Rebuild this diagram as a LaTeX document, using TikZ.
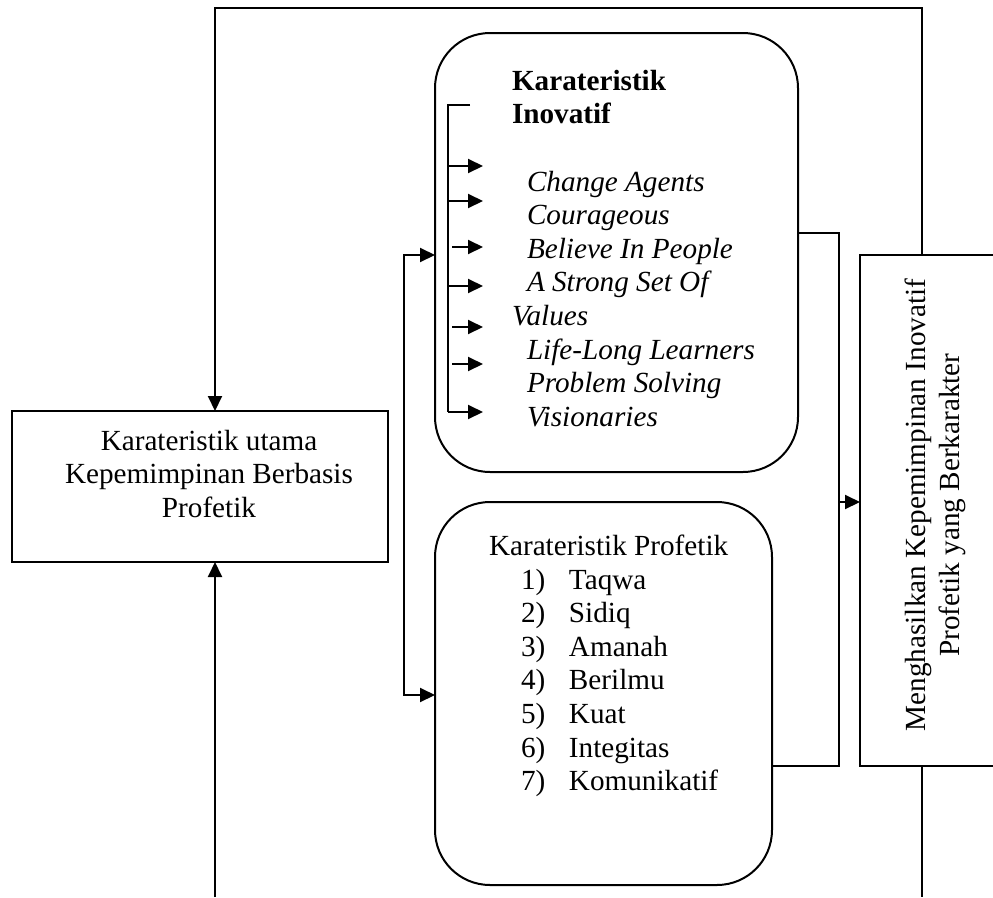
\documentclass[tikz,border=0pt]{standalone}
\usepackage{fontspec}
\setmainfont{Liberation Serif}
\usetikzlibrary{arrows.meta}

\begin{document}
\begin{tikzpicture}[x=1pt, y=-1pt, line width=2pt]
\tikzset{ >={Triangle[length=15pt,width=14pt]}, inner sep=0pt, outer sep=0pt,
  box/.style={draw},
  roundbox/.style={draw, rounded corners=55pt},
  txt/.style={font=\fontsize{29.2}{33.6}\selectfont},
}
\useasboundingbox (0,0) rectangle (993,897);
%\draw [lightgray, dashed](0,0) grid[step=50] (993,897);

\node [box, minimum width=376pt, minimum height=151pt] (utama) at (200,486.5) {};
\node [roundbox, minimum width=363pt, minimum height=439pt] (inovatif) at (616.5,252.5) {};
\node [roundbox, minimum width=337pt, minimum height=383pt] (profetik) at (603.5,693.5) {};
\node [box, minimum width=151pt, minimum height=511pt] (hasil) at (935.5,510.5) {};

\node [txt, align=center, anchor=north] (utamaT) at (209,430)
  {Karateristik utama\\Kepemimpinan Berbasis\\Profetik};
\node [txt, align=left, anchor=north west] (inovatifT) at (512,70)
  {\textbf{Karateristik}\\
   \textbf{Inovatif}\\[33.6pt]
   \hspace*{15pt}\textit{Change Agents}\\
   \hspace*{15pt}\textit{Courageous}\\
   \hspace*{15pt}\textit{Believe In People}\\
   \hspace*{15pt}\textit{A Strong Set Of}\\
   \textit{Values}\\
   \hspace*{15pt}\textit{Life-Long Learners}\\
   \hspace*{15pt}\textit{Problem Solving}\\
   \hspace*{15pt}\textit{Visionaries}};
\node [txt, align=left, anchor=north west] (profetikT) at (489,535)
  {Karateristik Profetik\\
   \hspace*{32pt}\makebox[48pt][l]{1)}Taqwa\\
   \hspace*{32pt}\makebox[48pt][l]{2)}Sidiq\\
   \hspace*{32pt}\makebox[48pt][l]{3)}Amanah\\
   \hspace*{32pt}\makebox[48pt][l]{4)}Berilmu\\
   \hspace*{32pt}\makebox[48pt][l]{5)}Kuat\\
   \hspace*{32pt}\makebox[48pt][l]{6)}Integitas\\
   \hspace*{32pt}\makebox[48pt][l]{7)}Komunikatif};
\node [txt, align=center, rotate=90] (hasilT) at (935.5,505)
  {Menghasilkan Kepemimpinan Inovatif\\Profetik yang Berkarakter};

\coordinate (atasR) at (922,8);
\coordinate (atasL) at (215,8);
\coordinate (bawahR) at (922,897);
\coordinate (bawahL) at (215,897);
\coordinate (kiriT) at (404,255);
\coordinate (kiriB) at (404,695);
\coordinate (kananT) at (839,233);
\coordinate (kananM) at (839,502);
\coordinate (kananB) at (839,766);
\coordinate (dalamT) at (448,105);
\coordinate (dalamB) at (448,412);

\draw [->] (hasil.north -| atasR) -- (atasR) -- (atasL) -- (utama.north -| atasL);
\draw      (hasil.south -| bawahR) -- (bawahR);
\draw [->] (bawahL) -- (utama.south -| bawahL);

\draw [<->] (inovatif.west |- kiriT) -- (kiriT) -- (kiriB) -- (profetik.west |- kiriB);
\draw       (inovatif.east |- kananT) -- (kananT) -- (kananB) -- (profetik.east |- kananB);
\draw [->]  (kananM) -- (hasil.west |- kananM);

\draw (dalamT) ++(22,0) -- (dalamT) -- (dalamB);
\foreach \y/\s in {166/0,201/0,247/4,286/0,327/4,364/4,412/0}
  \draw [->] (dalamT |- 0,\y) ++(\s,0) -- ++(35-\s,0);

\end{tikzpicture}
\end{document}
